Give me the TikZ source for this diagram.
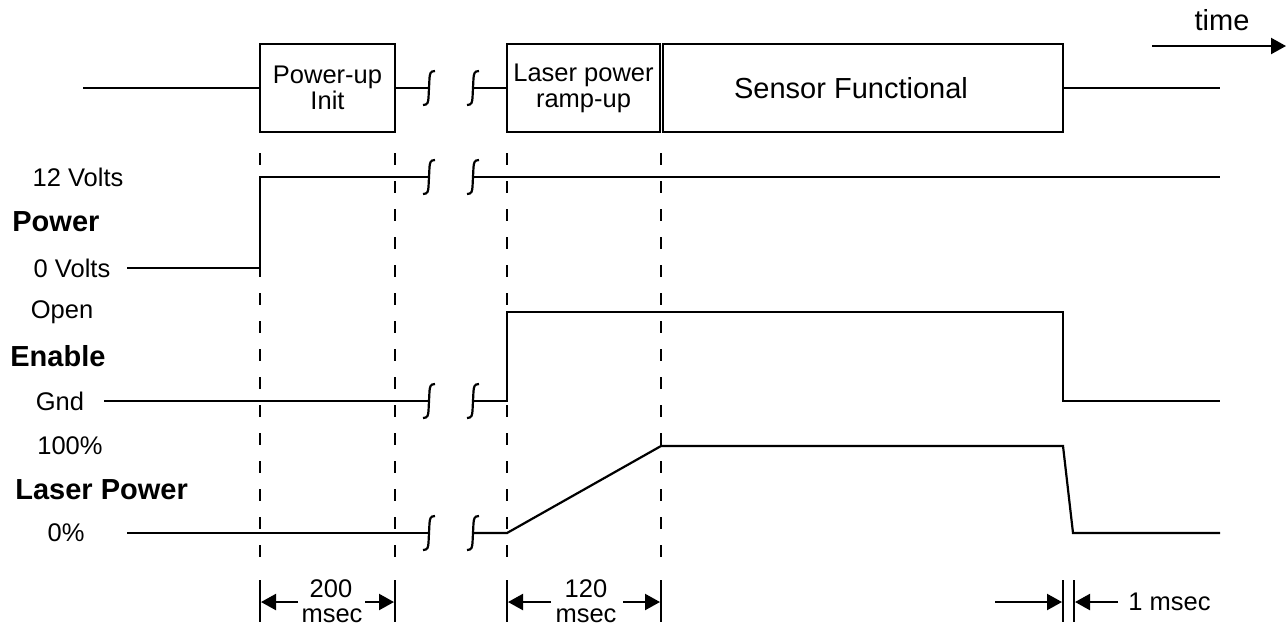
\documentclass[tikz,border=0pt]{standalone}
\usepackage{fontspec}
\setmainfont{Liberation Sans}
\usetikzlibrary{arrows.meta}
\begin{document}
\begin{tikzpicture}[x=0.5pt,y=-0.5pt,
  sig/.style={line width=1.1pt, line join=miter},
  guide/.style={line width=1.1pt, dash pattern=on 6pt off 8pt},
  box/.style={draw, line width=1.1pt, inner sep=0pt},
  lbl/.style={font=\fontsize{12.75}{13}\selectfont, inner sep=0pt},
  biglbl/.style={font=\fontsize{14.5}{17}\selectfont, inner sep=0pt},
  blbl/.style={font=\fontsize{14.5}{17}\selectfont\bfseries, inner sep=0pt, anchor=west},
  dim/.style={line width=1.1pt, -{Triangle[length=7.5pt,width=8pt]}},
  tick/.style={line width=1.1pt},
  pics/brkmark/.style={code={\draw[line width=1.1pt] (-6,17) .. controls (-1,17) and (-1,14) .. (-0.5,10) -- (0.5,-10) .. controls (1,-14) and (1,-17) .. (6,-17);}}
]
\useasboundingbox (0,0) rectangle (1288,629);

% ---------- top state row ----------
\node[box, minimum width=67.5pt, minimum height=44pt, lbl, align=center] (b1) at (327.5,88) {Power-up\\Init};
\node[box, minimum width=76.5pt, minimum height=44pt, lbl, align=center] (b2) at (583.5,88) {Laser power\\ramp-up};
\node[box, minimum width=200pt, minimum height=44pt] (b3) at (863,88) {};
\node[biglbl] (t3) at (851,88) {Sensor Functional};
\coordinate (tl) at (83,88);
\coordinate (tr) at (1220,88);
\coordinate (tk1) at (429,88);
\coordinate (tk2) at (473,88);
\draw[sig] (tl) -- (b1.west);
\draw[sig] (b1.east) -- (tk1);
\pic at (tk1) {brkmark};
\pic at (tk2) {brkmark};
\draw[sig] (tk2) -- (b2.west);
\draw[sig] (b3.east) -- (tr);

% ---------- time arrow ----------
\node[biglbl] (time) at (1222,20) {time};
\coordinate (ta) at (1152,46);
\coordinate (tb) at (1286,46);
\draw[dim] (ta) -- (tb);

% ---------- dashed guides ----------
\foreach \gx/\gn in {260/ga,395/gb,507/gc,661/gd}{
  \coordinate (\gn top) at (\gx,153);
  \coordinate (\gn bot) at (\gx,558);
  \draw[guide] (\gn top) -- (\gn bot);
}

% ---------- Power ----------
\node[lbl] (v12) at (78,177) {12 Volts};
\node[blbl] (pw) at (12,222) {Power};
\node[lbl] (v0) at (72,268) {0 Volts};
\coordinate (p0) at (127,268);
\coordinate (p1) at (260,268);
\coordinate (p2) at (260,177);
\coordinate (pk1) at (429,177);
\coordinate (pk2) at (473,177);
\coordinate (p3) at (1220,177);
\draw[sig] (p0) -- (p1) -- (p2) -- (pk1);
\pic at (pk1) {brkmark};
\pic at (pk2) {brkmark};
\draw[sig] (pk2) -- (p3);

% ---------- Enable ----------
\node[lbl] (open) at (62,312) {Open};
\node[blbl] (en) at (10,356) {Enable};
\node[lbl] (gnd) at (60,401) {Gnd};
\coordinate (e0) at (104,401);
\coordinate (ek1) at (429,401);
\coordinate (ek2) at (473,401);
\coordinate (e1) at (507,401);
\coordinate (e2) at (507,312);
\coordinate (e3) at (1063,312);
\coordinate (e4) at (1063,401);
\coordinate (e5) at (1220,401);
\draw[sig] (e0) -- (ek1);
\pic at (ek1) {brkmark};
\pic at (ek2) {brkmark};
\draw[sig] (ek2) -- (e1) -- (e2) -- (e3) -- (e4) -- (e5);

% ---------- Laser Power ----------
\node[lbl] (l100) at (70,446) {100\%};
\node[blbl] (lp) at (15,490) {Laser Power};
\node[lbl] (l0) at (66,533) {0\%};
\coordinate (l0s) at (127,533);
\coordinate (lk1) at (429,533);
\coordinate (lk2) at (473,533);
\coordinate (la) at (507,533);
\coordinate (lb) at (661,446);
\coordinate (lc) at (1063,446);
\coordinate (ld) at (1073,533);
\coordinate (le) at (1220,533);
\draw[sig] (l0s) -- (lk1);
\pic at (lk1) {brkmark};
\pic at (lk2) {brkmark};
\draw[sig] (lk2) -- (la) -- (lb) -- (lc) -- (ld) -- (le);

% ---------- dimensions ----------
\foreach \dx/\dn in {260/da,395/db,507/dc,661/dd,1063/de,1074/df}{
  \coordinate (\dn top) at (\dx,580);
  \coordinate (\dn bot) at (\dx,622);
  \draw[tick] (\dn top) -- (\dn bot);
}
% 200 msec
\node[lbl] (n200) at (331,589) {200};
\node[lbl] (m200) at (332,616) {msec};
\coordinate (a1) at (298,602);
\coordinate (a1t) at (261,602);
\coordinate (a2) at (365,602);
\coordinate (a2t) at (394,602);
\draw[dim] (a1) -- (a1t);
\draw[dim] (a2) -- (a2t);
% 120 msec
\node[lbl] (n120) at (586,589) {120};
\node[lbl] (m120) at (586,616) {msec};
\coordinate (a3) at (551,602);
\coordinate (a3t) at (508,602);
\coordinate (a4) at (623,602);
\coordinate (a4t) at (660,602);
\draw[dim] (a3) -- (a3t);
\draw[dim] (a4) -- (a4t);
% 1 msec
\coordinate (a5) at (995,602);
\coordinate (a5t) at (1062,602);
\coordinate (a6) at (1118,602);
\coordinate (a6t) at (1075,602);
\draw[dim] (a5) -- (a5t);
\draw[dim] (a6) -- (a6t);
\node[lbl, anchor=west] (m1) at (1128,602) {1 msec};
\end{tikzpicture}
\end{document}
